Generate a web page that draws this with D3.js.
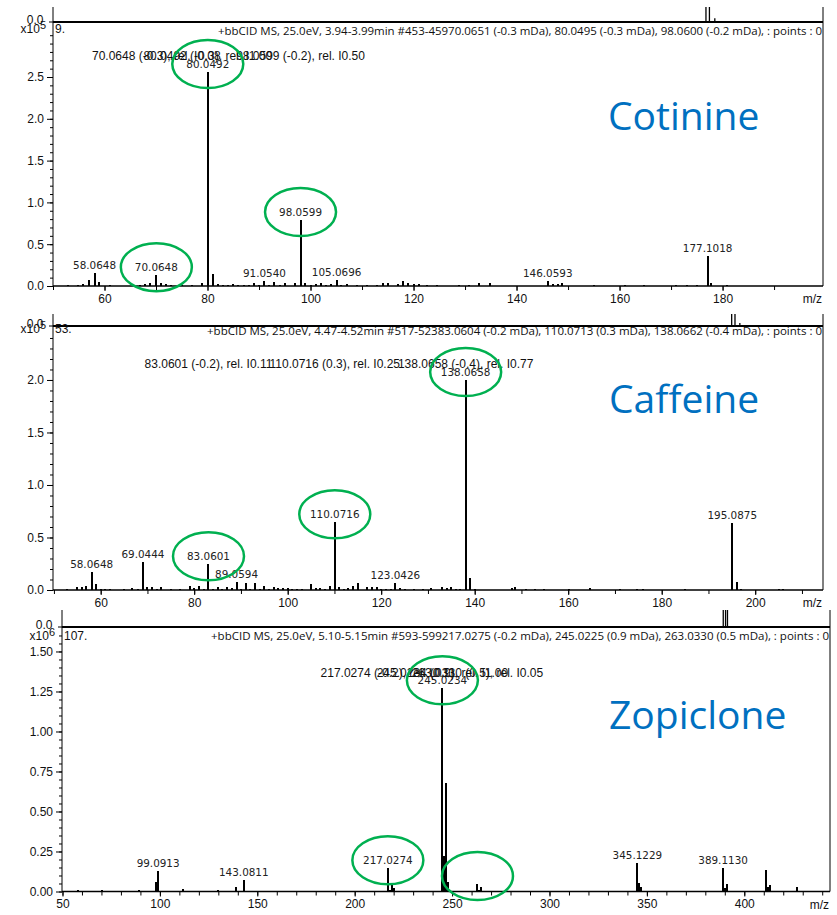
<!DOCTYPE html>
<html>
<head>
<meta charset="utf-8">
<script src="https://cdn.jsdelivr.net/npm/d3@7"></script>
<style>
    body { margin: 0; background: #fff; }
    svg { display: block; }
    .tick text, .axis-text { font-family: "Liberation Sans", Arial, sans-serif; font-size: 12px; fill: #111; }
    .peak-label { font-family: "DejaVu Sans", Verdana, sans-serif; font-size: 10.4px; fill: #222; }
    .header { font-family: "Open Sans", sans-serif; font-size: 11px; fill: #111; }
    .name { font-family: "Open Sans", sans-serif; font-size: 39px; fill: #0070c0; }
</style>
</head>
<body>
<svg id="chart" width="837" height="915"></svg>
<script>
// ---- data: [m/z, intensity] (Cotinine / Caffeine x10^5, Zopiclone x10^6)
let cotininePeaks = [
    [53.0, 0.01], [54.9, 0.015], [55.9, 0.02], [56.9, 0.07], [58.0648, 0.16], [59.0, 0.05], [61.0, 0.01],
    [66.9, 0.01], [67.9, 0.02], [68.9, 0.03], [70.0648, 0.13], [71.0, 0.03], [71.9, 0.02], [73.0, 0.01],
    [75.0, 0.01], [77.0, 0.01], [78.9, 0.03], [80.0492, 2.56], [81.0, 0.14], [82.0, 0.02], [83.0, 0.01],
    [84.0, 0.01], [85.0, 0.02], [86.0, 0.01], [87.0, 0.01], [88.0, 0.01], [89.0, 0.03], [90.0, 0.01],
    [91.0540, 0.06], [92.0, 0.01], [93.0, 0.05], [94.0, 0.01], [95.0, 0.03], [97.0, 0.03], [98.0599, 0.79],
    [99.0, 0.04], [100.0, 0.01], [101.0, 0.02], [102.0, 0.03], [103.0, 0.01], [104.0, 0.02], [105.0696, 0.07],
    [106.0, 0.01], [107.0, 0.02], [109.0, 0.01], [111.0, 0.01], [113.0, 0.01], [114.0, 0.03], [115.0, 0.04],
    [117.0, 0.02], [118.0, 0.06], [119.0, 0.03], [120.0, 0.02], [121.1, 0.02], [122.7, 0.01], [124.6, 0.01],
    [128.8, 0.01], [130.8, 0.01], [132.7, 0.03], [134.8, 0.03], [146.0593, 0.06], [147.0, 0.02], [148.0, 0.02],
    [148.8, 0.03], [155.0, 0.01], [161.0, 0.01], [164.7, 0.015], [171.0, 0.01], [173.0, 0.01], [175.0, 0.01],
    [177.1018, 0.36], [177.8, 0.04], [180.9, 0.01]
];
let cotinineLabels = ["58.0648", "70.0648", "80.0492", "91.0540", "98.0599", "105.0696", "146.0593", "177.1018"];
let cotinineCircled = [70.0648, 80.0492, 98.0599];
let cotinineNotes = ["70.0648 (-0.3), rel. I0.08", "80.0492 (-0.3), rel. I1.00", "98.0599 (-0.2), rel. I0.50"];
let cotinineHeader = "+bbCID MS, 25.0eV, 3.94-3.99min #453-45970.0651 (-0.3 mDa), 80.0495 (-0.3 mDa), 98.0600 (-0.2 mDa), : points : 0";
let cotinineStrip = [[84.8, 1], [85.25, 1], [85.95, 0.25]];

let caffeinePeaks = [
    [52.9, 0.01], [54.9, 0.03], [55.9, 0.03], [56.8, 0.04], [58.0648, 0.17], [59.1, 0.06], [60.0, 0.01],
    [61.0, 0.01], [62.0, 0.01], [65.0, 0.01], [66.8, 0.02], [68.0, 0.01], [69.0444, 0.264], [70.0, 0.03],
    [71.0, 0.03], [72.0, 0.01], [73.0, 0.03], [75.0, 0.01], [77.0, 0.01], [79.0, 0.04], [80.0, 0.02],
    [81.0, 0.04], [82.0, 0.01], [83.0601, 0.245], [84.0, 0.01], [85.0, 0.03], [86.0, 0.01], [87.0, 0.03],
    [88.0, 0.02], [89.0594, 0.08], [90.0, 0.01], [91.0, 0.07], [92.0, 0.01], [93.0, 0.07], [94.0, 0.01],
    [95.0, 0.04], [96.0, 0.01], [97.0, 0.03], [98.0, 0.02], [99.0, 0.02], [100.0, 0.02], [101.0, 0.01],
    [102.0, 0.01], [103.0, 0.01], [105.0, 0.06], [106.0, 0.02], [107.0, 0.02], [108.0, 0.01], [109.0, 0.04],
    [110.0716, 0.645], [111.0, 0.03], [112.0, 0.01], [113.0, 0.02], [114.0, 0.04], [115.0, 0.07], [117.0, 0.03],
    [118.0, 0.03], [119.0, 0.03], [120.0, 0.01], [121.0, 0.01], [122.0, 0.01], [123.0426, 0.07], [124.0, 0.02],
    [125.0, 0.01], [127.0, 0.01], [129.0, 0.01], [130.7, 0.015], [133.0, 0.03], [134.0, 0.015], [135.0, 0.03],
    [135.9, 0.01], [136.8, 0.01], [138.0658, 2.0], [139.0, 0.11], [140.0, 0.005], [148.0, 0.015], [148.7, 0.03],
    [150.9, 0.01], [153.0, 0.01], [154.8, 0.01], [160.1, 0.01], [164.7, 0.02], [171.0, 0.01], [174.7, 0.01],
    [176.1, 0.01], [185.0, 0.01], [195.0875, 0.635], [196.0, 0.08], [196.9, 0.01], [205.0, 0.01], [206.0, 0.01]
];
let caffeineLabels = ["58.0648", "69.0444", "83.0601", "89.0594", "110.0716", "123.0426", "138.0658", "195.0875"];
let caffeineCircled = [83.0601, 110.0716, 138.0658];
let caffeineNotes = ["83.0601 (-0.2), rel. I0.11", "110.0716 (0.3), rel. I0.25", "138.0658 (-0.4), rel. I0.77"];
let caffeineHeader = "+bbCID MS, 25.0eV, 4.47-4.52min #517-52383.0604 (-0.2 mDa), 110.0713 (0.3 mDa), 138.0662 (-0.4 mDa), : points : 0";
let caffeineStrip = [[88.14, 1], [88.57, 1], [89.2, 0.25]];

let zopiclonePeaks = [
    [58.0, 0.012], [70.3, 0.012], [81.0, 0.005], [84.2, 0.005], [89.2, 0.01], [92.0, 0.005], [95.0, 0.005],
    [96.0, 0.005], [98.0, 0.06], [99.0913, 0.128], [108.8, 0.005], [110.0, 0.005], [111.0, 0.005], [111.7, 0.015],
    [113.0, 0.005], [117.3, 0.005], [118.5, 0.005], [126.8, 0.005], [129.7, 0.01], [131.0, 0.005], [135.3, 0.005],
    [139.0, 0.03], [143.0811, 0.072], [149.0, 0.005], [217.0274, 0.145], [218.0, 0.01], [219.0, 0.04],
    [220.0, 0.02], [245.0234, 1.27], [246.0, 0.22], [247.0, 0.68], [248.0, 0.06], [263.0330, 0.047],
    [264.0, 0.01], [265.0, 0.025], [270.0, 0.005], [345.1229, 0.18], [346.0, 0.05], [347.0, 0.03],
    [348.0, 0.005], [367.0, 0.005], [389.1130, 0.145], [390.0, 0.02], [391.0, 0.047], [392.0, 0.005],
    [399.5, 0.003], [411.0, 0.135], [412.0, 0.025], [413.0, 0.04], [414.0, 0.005], [427.0, 0.025],
    [428.0, 0.005], [429.0, 0.005]
];
let zopicloneLabels = ["99.0913", "143.0811", "217.0274", "245.0234", "345.1229", "389.1130"];
let zopicloneCircled = [217.0274, 245.0234, 263.0330];
let zopicloneNotes = ["217.0274 (-0.2), rel. I0.11", "245.0234 (0.9), rel. I1.00", "263.0330 (0.5), rel. I0.05"];
let zopicloneHeader = "+bbCID MS, 25.0eV, 5.10-5.15min #593-599217.0275 (-0.2 mDa), 245.0225 (0.9 mDa), 263.0330 (0.5 mDa), : points : 0";
let zopicloneStrip = [[86.1, 1], [86.4, 1], [86.65, 1]];

let steps = (a, b, s) => d3.range(Math.round((b - a) / s) + 1).map(i => +(a + i * s).toFixed(3));

let panels = [
    {name: "Cotinine", peaks: cotininePeaks, labels: cotinineLabels, circled: cotinineCircled, notes: cotinineNotes,
     header: cotinineHeader, strip: cotinineStrip, scan: "9.", exp: "5",
     x0: 53, x1: 823, top: 7, stripY: 22, y0: 286, xDomain: [50, 199.5], yMax: 3.158,
     xMajor: steps(60, 180, 20), xMinor: steps(50, 190, 10),
     yMajor: steps(0, 2.5, 0.5), yMinor: steps(0, 3.0, 0.1), yFmt: d3.format(".1f"),
     sciY: 33, headerY: 35, headerW: 604, nameX: 608, nameY: 130},
    {name: "Caffeine", peaks: caffeinePeaks, labels: caffeineLabels, circled: caffeineCircled, notes: caffeineNotes,
     header: caffeineHeader, strip: caffeineStrip, scan: "53.", exp: "5",
     x0: 53, x1: 823, top: 314, stripY: 326, y0: 590, xDomain: [49.8, 214.5], yMax: 2.514,
     xMajor: steps(60, 200, 20), xMinor: steps(50, 210, 10),
     yMajor: steps(0, 2.0, 0.5), yMinor: steps(0, 2.4, 0.1), yFmt: d3.format(".1f"),
     sciY: 333, headerY: 335, headerW: 615, nameX: 609, nameY: 413},
    {name: "Zopiclone", peaks: zopiclonePeaks, labels: zopicloneLabels, circled: zopicloneCircled, notes: zopicloneNotes,
     header: zopicloneHeader, strip: zopicloneStrip, scan: "107.", exp: "6",
     x0: 62, x1: 830, top: 610, stripY: 627, y0: 891.5, xDomain: [49.75, 444], yMax: 1.653,
     xMajor: steps(50, 400, 50), xMinor: steps(50, 440, 10),
     yMajor: steps(0, 1.5, 0.25), yMinor: steps(0, 1.6, 0.05), yFmt: d3.format(".2f"),
     sciY: 640, headerY: 640, headerW: 618, nameX: 609, nameY: 729}
];

let svg = d3.select("#chart");

let nearest = (peaks, mz) => peaks.reduce((a, b) => Math.abs(b[0] - mz) < Math.abs(a[0] - mz) ? b : a);

panels.forEach(p => {
    let x = d3.scaleLinear().domain(p.xDomain).range([p.x0, p.x1]);
    let y = d3.scaleLinear().domain([0, p.yMax]).range([p.y0, p.stripY]);
    let g = svg.append("g");

    // bottom of the chromatogram view above the spectrum
    let sx = d3.scaleLinear().domain([0, 100]).range([p.x0, p.x1]);
    g.append("g").selectAll("line")
        .data(p.strip)
        .enter().append("line")
        .attr("x1", d => sx(d[0])).attr("x2", d => sx(d[0]))
        .attr("y1", d => p.stripY - (p.stripY - p.top) * d[1]).attr("y2", p.stripY)
        .attr("stroke", "#000").attr("stroke-width", 1.3);
    g.append("line")
        .attr("x1", p.x0).attr("x2", p.x1).attr("y1", p.stripY).attr("y2", p.stripY)
        .attr("stroke", "#000").attr("stroke-width", 2);
    g.append("line")
        .attr("x1", p.x0 - 4).attr("x2", p.x0).attr("y1", p.stripY).attr("y2", p.stripY)
        .attr("stroke", "#000");
    g.append("text").attr("class", "axis-text")
        .attr("x", p.x0 - 9.5).attr("y", p.stripY + 2).attr("text-anchor", "end")
        .text("0.0");

    // frame
    g.append("line")
        .attr("x1", p.x0).attr("x2", p.x0).attr("y1", p.top).attr("y2", p.y0)
        .attr("stroke", "#000");
    g.append("line")
        .attr("x1", p.x1).attr("x2", p.x1).attr("y1", p.top).attr("y2", p.y0)
        .attr("stroke", "#000");

    // y axis: labelled major ticks + minor ticks
    g.append("g")
        .attr("transform", `translate(${p.x0},0)`)
        .attr("color", "#000")
        .call(d3.axisLeft(y).tickValues(p.yMinor).tickSize(3).tickFormat(""))
        .call(a => a.select(".domain").remove());
    g.append("g")
        .attr("transform", `translate(${p.x0},0)`)
        .attr("color", "#000")
        .call(d3.axisLeft(y).tickValues(p.yMajor).tickSize(6).tickPadding(3).tickFormat(p.yFmt))
        .call(a => a.select(".domain").remove());

    // x axis
    g.append("g")
        .attr("transform", `translate(0,${p.y0})`)
        .attr("color", "#000")
        .call(d3.axisBottom(x).tickValues(p.xMinor).tickSize(4).tickFormat(""))
        .call(a => a.select(".domain").remove());
    g.append("g")
        .attr("transform", `translate(0,${p.y0})`)
        .attr("color", "#000")
        .call(d3.axisBottom(x).tickValues(p.xMajor).tickSize(5).tickPadding(3).tickFormat(d3.format("d")))
        .call(a => a.select(".domain").remove());
    g.append("line")
        .attr("x1", p.x0).attr("x2", p.x1).attr("y1", p.y0).attr("y2", p.y0)
        .attr("stroke", "#000").attr("stroke-width", 1.5);
    g.append("text").attr("class", "axis-text")
        .attr("x", p.x1 - 1).attr("y", p.y0 + 17).attr("text-anchor", "end")
        .text("m/z");

    // exponent, scan number, header
    let sci = g.append("text").attr("class", "axis-text")
        .attr("x", p.x0 - 7).attr("y", p.sciY).attr("text-anchor", "end");
    sci.append("tspan").text("x10");
    sci.append("tspan").attr("dy", -4).attr("font-size", 11).text(p.exp);
    g.append("text").attr("class", "axis-text")
        .attr("x", p.x0 + 2).attr("y", p.sciY)
        .text(p.scan);
    g.append("text").attr("class", "header")
        .attr("x", p.x1 - 1).attr("y", p.headerY).attr("text-anchor", "end")
        .attr("textLength", p.headerW).attr("lengthAdjust", "spacingAndGlyphs")
        .text(p.header);

    // sticks
    g.append("g").selectAll("line")
        .data(p.peaks)
        .enter().append("line")
        .attr("x1", d => x(d[0])).attr("x2", d => x(d[0]))
        .attr("y1", p.y0).attr("y2", d => y(d[1]))
        .attr("stroke", "#000").attr("stroke-width", 2)
        .attr("shape-rendering", "crispEdges");

    // peak labels
    g.append("g").selectAll("text")
        .data(p.labels)
        .enter().append("text")
        .attr("class", "peak-label")
        .attr("x", d => x(+d)).attr("y", d => y(nearest(p.peaks, +d)[1]) - 4)
        .attr("text-anchor", "middle")
        .text(d => d);

    // overlapping compound annotations above the base peak
    let top = d3.max(p.peaks, d => d[1]);
    g.append("g").selectAll("text")
        .data(p.notes)
        .enter().append("text")
        .attr("class", "axis-text")
        .attr("x", d => x(parseFloat(d))).attr("y", y(top) - 11.5)
        .attr("text-anchor", "middle")
        .text(d => d);

    // highlighted fragments
    g.append("g").selectAll("ellipse")
        .data(p.circled)
        .enter().append("ellipse")
        .attr("cx", d => x(d))
        .attr("cy", d => Math.min(y(nearest(p.peaks, d)[1]) - 8, p.y0 - 10))
        .attr("rx", 35.5).attr("ry", 24)
        .attr("fill", "none").attr("stroke", "#00b050").attr("stroke-width", 2.5);

    g.append("text").attr("class", "name")
        .attr("x", p.nameX).attr("y", p.nameY)
        .text(p.name);
});
</script>
</body>
</html>
